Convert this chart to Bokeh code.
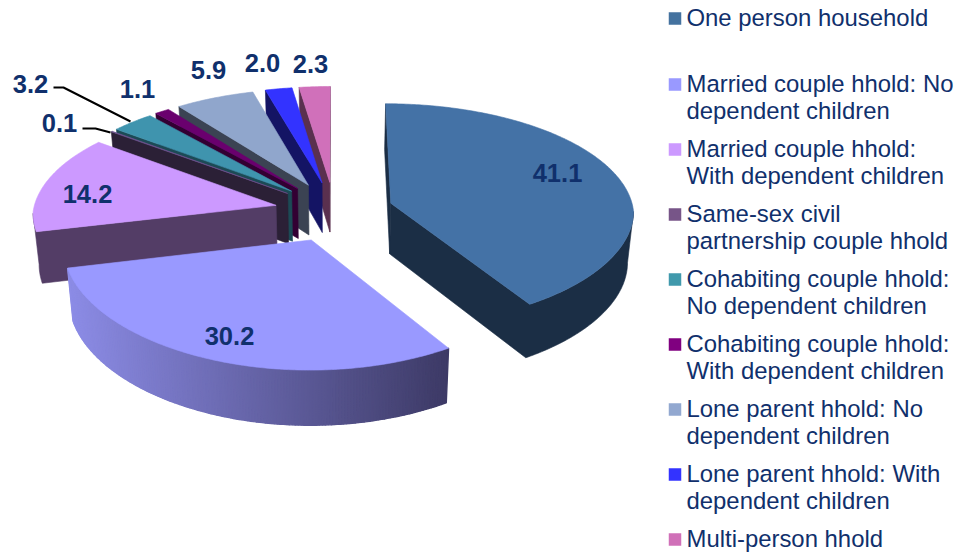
import math
from bokeh.plotting import figure
from bokeh.models import Range1d
from bokeh.core.properties import value
from bokeh.embed import file_html
from bokeh.resources import INLINE

# ---- data ----
categories = [
    "One person household",
    "Married couple hhold: No\ndependent children",
    "Married couple hhold:\nWith dependent children",
    "Same-sex civil\npartnership couple hhold",
    "Cohabiting couple hhold:\nNo dependent children",
    "Cohabiting couple hhold:\nWith dependent children",
    "Lone parent hhold: No\ndependent children",
    "Lone parent hhold: With\ndependent children",
    "Multi-person hhold",
]
values = [41.1, 30.2, 14.2, 0.1, 3.2, 1.1, 5.9, 2.0, 2.3]

# ---- styles ----
top_colors = ["#4472A6", "#9999FF", "#CC99FF", "#6F5490", "#3F94AE", "#6A006E", "#90A6CC", "#3333FF", "#D070BA"]
wall_colors = ["#1B2E45", "#3D3A66", "#533D66", "#2B2036", "#1C4A55", "#330033", "#3B4353", "#141464", "#5A304F"]
legend_colors = ["#44729F", "#9999FF", "#CC99FF", "#775588", "#4099AC", "#800080", "#92A8D0", "#3333FF", "#D070B8"]
TEXT = "#10306C"

# ---- 3D pie projection (layout) ----
CX, CY, R, B, K, K_FRONT = 333.5, 211.0, 243.0, 111.0, 0.10, 0.06
EX, EY, DEPTH, SHRINK = 0.245, 0.27, 51.0, 0.98


def project(theta, r, mid):
    t, m = math.radians(theta), math.radians(mid)
    U = r * math.sin(t) + EX * math.sin(m)
    V = r * math.cos(t) + EY * math.cos(m)
    f = 1.0 / (1.0 + K * V)
    fx = 1.0 / (1.0 + (K if V > 0 else K_FRONT) * V)
    return CX + R * U * fx, CY - B * V * f, fx


def lower(pt):
    x, y, f = pt
    return CX + (x - CX) * SHRINK, y + DEPTH * f


def mix(a, b, t):
    t = max(0.0, min(1.0, t))
    ca = [int(a[i:i + 2], 16) for i in (1, 3, 5)]
    cb = [int(b[i:i + 2], 16) for i in (1, 3, 5)]
    return "#%02x%02x%02x" % tuple(round(p + (q - p) * t) for p, q in zip(ca, cb))


p = figure(width=956, height=553, x_range=Range1d(0, 956), y_range=Range1d(553, 0),
           output_backend="svg", toolbar_location=None, min_border=0,
           x_axis_location=None, y_axis_location=None, outline_line_color=None)
p.grid.visible = False
p.background_fill_color = "white"
p.border_fill_color = "white"

total = sum(values)
spans = []
acc = 0.0
for v in values:
    spans.append((acc / total * 360.0, (acc + v) / total * 360.0))
    acc += v

# painter's order: back slices first, the two big front ones last
order = [8, 7, 6, 5, 4, 3, 2, 1, 0]
for i in order:
    a0, a1 = spans[i]
    mid = (a0 + a1) / 2
    n = max(2, int((a1 - a0) * 1.5))
    rim = [project(a0 + (a1 - a0) * j / n, 1.0, mid) for j in range(n + 1)]
    apex = project(mid, 0.0, mid)
    ring = [apex] + rim + [apex]
    run = []  # consecutive front-facing edges become one wall

    def flush(run):
        if len(run) < 2:
            return
        lows = [lower(q) for q in run]
        xs_ = [q[0] for q in run] + [q[0] for q in reversed(lows)]
        ys_ = [q[1] for q in run] + [q[1] for q in reversed(lows)]
        p.patch(xs_, ys_, fill_color=wall_colors[i], line_color=wall_colors[i], line_width=0.6)

    for a, b in zip(ring[:-1], ring[1:]):
        if b[0] - a[0] >= -1e-9:
            flush(run)
            run = []
            continue  # back face, turned away from the viewer
        if i == 1:  # the big front wall carries a horizontal gradient
            la, lb = lower(a), lower(b)
            col = mix("#3D3A66", "#8C8CE6", (447 - (a[0] + b[0]) / 2) / 381)
            p.patch([a[0], b[0], lb[0], la[0]], [a[1], b[1], lb[1], la[1]],
                    fill_color=col, line_color=col, line_width=1.4)
        else:
            if not run:
                run = [a]
            run.append(b)
    flush(run)
    p.patch([q[0] for q in ring], [q[1] for q in ring],
            fill_color=top_colors[i], line_color=top_colors[i], line_width=0.6)

# leader lines
p.line([53, 63, 130], [87, 87, 121], line_color="black", line_width=2)
p.line([82, 95, 110], [128, 128, 132], line_color="black", line_width=2)

# value labels
label_x = [557, 229, 87, 59, 30, 137, 208, 262, 310]
label_y = [172, 335, 193, 122, 83, 88, 69, 62, 63]
p.text(label_x, label_y, text=["%.1f" % v for v in values],
       text_font=value("Liberation Sans"), text_font_style="bold", text_font_size="25.5px",
       text_color=TEXT, text_align="center", text_baseline="middle")

# legend
legend_rows = [17, 83, 148, 213, 278, 343, 408, 473, 538]
marker_rows = [18, 84, 149, 214, 279, 344, 409, 474, 539]
LINE = 27
p.scatter([674.5] * 9, marker_rows, marker="square", size=12.5,
          fill_color=legend_colors, line_color=None)
xs, ys, ts = [], [], []
for row, cat in zip(legend_rows, categories):
    for j, line in enumerate(cat.split("\n")):
        xs.append(686)
        ys.append(row + j * LINE)
        ts.append(line)
p.text(xs, ys, text=ts, text_font=value("Liberation Sans"), text_font_size="23.9px",
       text_color=TEXT, text_align="left", text_baseline="middle")

open("out.html", "w").write(file_html(p, INLINE))
